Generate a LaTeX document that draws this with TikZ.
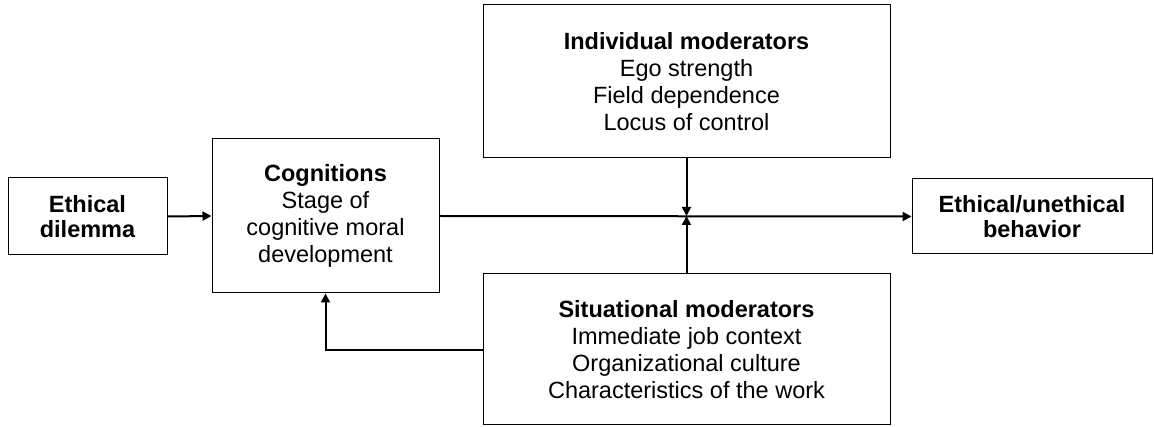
\documentclass[tikz,border=0pt]{standalone}
\usepackage{fontspec}
\setmainfont{Liberation Sans}
\usetikzlibrary{arrows.meta}
\tikzset{
  box/.style={draw=black, line width=1pt, rectangle, inner sep=0pt, align=center,
    font=\fontsize{23.5}{27}\selectfont},
  twoline/.style={box, font=\fontsize{23.5}{25.5}\selectfont\bfseries},
  conn/.style={line width=2pt, -{Triangle[length=9pt,width=9pt]}},
}
\begin{document}
\begin{tikzpicture}[x=1pt,y=-1pt]
\useasboundingbox (0,0) rectangle (1154,427);
\node[twoline, minimum width=159pt, minimum height=77pt] (dil) at (87.5,216.5) {Ethical\\dilemma};
\node[box, minimum width=227pt, minimum height=154pt] (cog) at (325.5,216) {\textbf{Cognitions}\\Stage of\\cognitive moral\\development};
\node[box, minimum width=407pt, minimum height=153pt] (ind) at (686.5,81.5) {\textbf{Individual moderators}\\Ego strength\\Field dependence\\Locus of control};
\node[box, minimum width=407pt, minimum height=151pt] (sit) at (686.5,349.5) {\textbf{Situational moderators}\\Immediate job context\\Organizational culture\\Characteristics of the work};
\node[twoline, minimum width=240pt, minimum height=75pt] (beh) at (1032,216.5) {Ethical/unethical\\behavior};
\coordinate (J) at (ind.south |- cog.east);
\coordinate (fb) at (483,350);
\draw[conn] (dil.east) -- (cog.west);
\draw[conn] (cog.east) -- (beh.west);
\draw[conn] (ind.south) -- (J);
\draw[conn] (sit.north) -- (J);
\draw[conn] (fb) -| (cog.south);
\end{tikzpicture}
\end{document}
